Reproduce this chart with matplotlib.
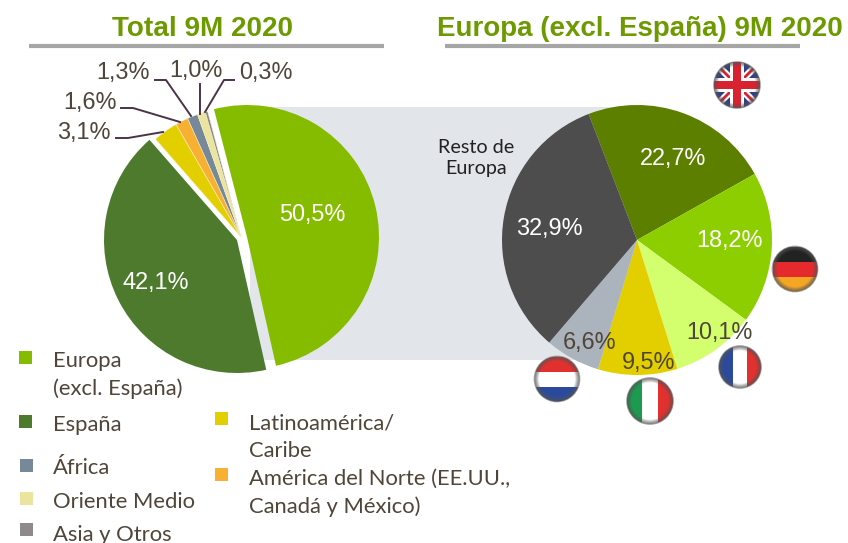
import matplotlib
matplotlib.use('Agg')
from matplotlib import pyplot as plt
from matplotlib.patches import Circle, Rectangle, Polygon

europa_value = [50.5]
spain_value = [42.1]
small_values = [3.1, 1.6, 1.3, 1.0, 0.3]
europa_color = ['#85BC00']
spain_color = ['#4D7A2C']
small_colors = ['#E3CF00', '#F7B032', '#778899', '#EAE49E', '#8F898C']

europe_values = [22.7, 18.2, 10.1, 9.5, 6.6, 32.9]
europe_colors = ['#5C7F00', '#8CCE00', '#D3FF6E', '#E3CF00', '#ABB3BC', '#4D4D4D']

titles = ['Total 9M 2020', 'Europa (excl. España) 9M 2020']
total_labels = ['50,5%', '42,1%', '3,1%', '1,6%', '1,3%', '1,0%', '0,3%']
europe_labels = ['22,7%', '18,2%', '10,1%', '9,5%', '6,6%', '32,9%']
legend_labels = ['Europa\n(excl. España)', 'España', 'África', 'Oriente Medio', 'Asia y Otros',
                 'Latinoamérica/\nCaribe', 'América del Norte (EE.UU.,\nCanadá y México)']
legend_colors = ['#85BC00', '#4D7A2C', '#778899', '#EAE49E', '#8F898C', '#E3CF00', '#F7B032']

H = 543
TEXT = '#4F4538'
SANS = 'Liberation Sans'


def yy(y):
    return H - y


def shade(cx, cy, r):
    # soft dark rim of the round flag icons
    for i in range(5):
        p = Circle((cx, yy(cy)), r - i * 0.9, fill=False, ec='#555555', lw=1.2, alpha=0.55 - i * 0.11, zorder=6)
        ax.add_patch(p)


def flag(cx, cy, r, stripes, vertical=False):
    clip = Circle((cx, yy(cy)), r, transform=ax.transData)
    n = len(stripes)
    for i, c in enumerate(stripes):
        if vertical:
            p = Rectangle((cx - r + 2 * r * i / n, yy(cy) - r), 2 * r / n, 2 * r, color=c, lw=0, zorder=5)
        else:
            p = Rectangle((cx - r, yy(cy) + r - 2 * r * (i + 1) / n), 2 * r, 2 * r / n, color=c, lw=0, zorder=5)
        ax.add_patch(p)
        p.set_clip_path(clip)
    shade(cx, cy, r)


def union_jack(cx, cy, r):
    clip = Circle((cx, yy(cy)), r, transform=ax.transData)
    y0 = yy(cy)
    parts = [Rectangle((cx - r, y0 - r), 2 * r, 2 * r, color='#2B3F87', lw=0, zorder=5)]
    for s in (1, -1):
        parts.append(Polygon([(cx - r, y0 - s * r + s * 5), (cx - r, y0 - s * r), (cx - r + 5, y0 - s * r),
                              (cx + r, y0 + s * r - s * 5), (cx + r, y0 + s * r), (cx + r - 5, y0 + s * r)],
                             color='white', lw=0, zorder=5))
        parts.append(Polygon([(cx - r, y0 - s * r + s * 2), (cx - r + 2, y0 - s * r),
                              (cx + r, y0 + s * r - s * 2), (cx + r - 2, y0 + s * r)],
                             color='#D8222F', lw=0, zorder=5))
    parts.append(Rectangle((cx - 7, y0 - r), 14, 2 * r, color='white', lw=0, zorder=5))
    parts.append(Rectangle((cx - r, y0 - 7), 2 * r, 14, color='white', lw=0, zorder=5))
    parts.append(Rectangle((cx - 4, y0 - r), 8, 2 * r, color='#D8222F', lw=0, zorder=5))
    parts.append(Rectangle((cx - r, y0 - 4), 2 * r, 8, color='#D8222F', lw=0, zorder=5))
    for p in parts:
        ax.add_patch(p)
        p.set_clip_path(clip)
    shade(cx, cy, r)


fig = plt.figure(figsize=(8.48, 5.43), dpi=100)
ax = fig.add_axes([0, 0, 1, 1])

# grey band behind the two pies
ax.add_patch(Rectangle((250, yy(360)), 387, 253, color='#E2E5E9', lw=0, zorder=0))

# left pie is three groups, each with its own offset and radius
start = 104.5
groups = [(europa_value, europa_color, (247, 237), 132, 0),
          (spain_value, spain_color, (237, 240), 133, 0),
          (small_values, small_colors, (241, 237), 130, 0.4)]
for vals, cols, (cx, cy), r, lw in groups:
    ax.pie([v / 100 for v in vals], colors=cols, normalize=False, startangle=start, counterclock=False,
           center=(cx, yy(cy)), radius=r, frame=True,
           wedgeprops={'linewidth': lw, 'edgecolor': '#F4EFC8', 'zorder': 2})
    start -= sum(vals) * 3.6

ax.pie(europe_values, colors=europe_colors, startangle=111, counterclock=False,
       center=(637, yy(240)), radius=135, frame=True,
       wedgeprops={'linewidth': 0, 'zorder': 2})
ax.set_xlim(0, 848)
ax.set_ylim(0, H)
ax.set_aspect('auto')
ax.axis('off')

# titles and rules
ax.text(202.5, yy(29), titles[0], color='#6C9A00', fontsize=20.1, fontweight='bold', family=SANS, ha='center', va='center')
ax.text(639.5, yy(29), titles[1], color='#6C9A00', fontsize=20, fontweight='bold', family=SANS, ha='center', va='center')
ax.plot([29, 384], [yy(46), yy(46)], color='#A6A6A6', lw=3, solid_capstyle='butt')
ax.plot([445, 800], [yy(46), yy(46)], color='#A6A6A6', lw=3, solid_capstyle='butt')

# pie labels
total_pos = [(312, 215, 'white'), (156, 282, 'white'), (84, 133, TEXT), (90, 102, TEXT),
             (123, 72, TEXT), (196, 71, TEXT), (266, 72, TEXT)]
for lab, (x, y, c) in zip(total_labels, total_pos):
    ax.text(x, yy(y), lab, color=c, fontsize=16.9, family=SANS, ha='center', va='center', zorder=7)

europe_pos = [(673, 158, 'white'), (730, 241, 'white'), (719, 333, TEXT), (649, 363, TEXT),
              (590, 343, TEXT), (549, 229, 'white')]
for lab, (x, y, c) in zip(europe_labels, europe_pos):
    ax.text(x, yy(y), lab, color=c, fontsize=16.9, family=SANS, ha='center', va='center', zorder=7)

ax.text(476, yy(158), 'Resto de\nEuropa', color='#222222', fontsize=14.2, family='Lato', ha='center', va='center',
        linespacing=1.3, zorder=7)

# leader lines
leaders = [([116, 128, 163], [138, 138, 132]), ([121, 133, 180], [108, 108, 122]),
           ([155, 166, 191], [80, 80, 116]), ([200, 200], [84, 114]), ([234, 224, 205], [80, 80, 112])]
for xs, ys in leaders:
    ax.plot(xs, [yy(v) for v in ys], color='#4B3348', lw=1.4, zorder=3)

# legend
legend_pos = [(19, 351, 53, 375), (19, 415, 53, 425), (20, 459, 53, 468), (20, 492, 53, 502), (20, 523, 53, 535),
              (215, 412, 249, 437), (215, 468, 249, 493)]
for lab, c, (sx, sy, tx, ty) in zip(legend_labels, legend_colors, legend_pos):
    ax.add_patch(Rectangle((sx, yy(sy + 13)), 13, 13, color=c, lw=0))
    ax.text(tx, yy(ty), lab, color=TEXT, fontsize=15.8, family='Lato', ha='left', va='center', linespacing=1.45)

# flags
union_jack(737, 85, 23)
flag(795, 269, 22.5, ['#222222', '#E52A2E', '#F5A623'])
flag(740, 367, 21, ['#2B4A9B', '#FFFFFF', '#E0312F'], vertical=True)
flag(650, 401, 23, ['#1E9A50', '#FFFFFF', '#E0312F'], vertical=True)
flag(557, 379, 22.5, ['#E0312F', '#FFFFFF', '#2B4A9B'])

fig.savefig('out.png', dpi=100)
